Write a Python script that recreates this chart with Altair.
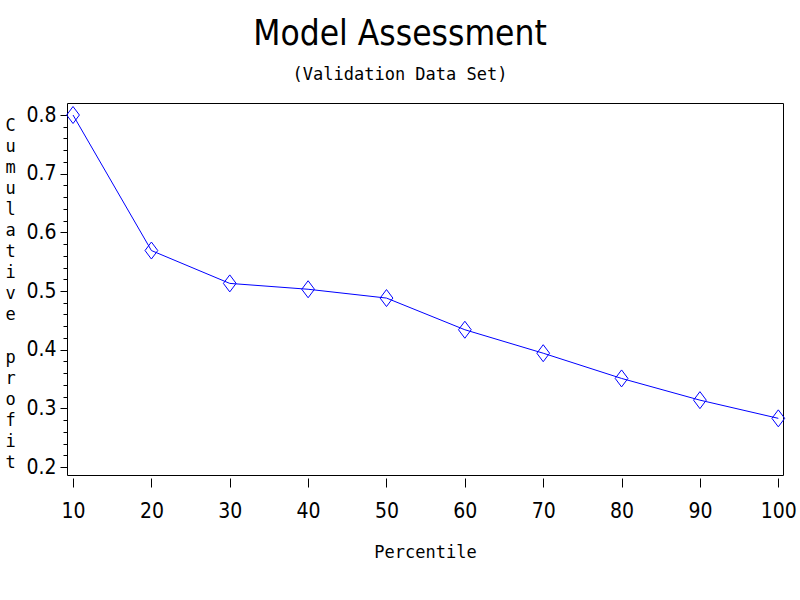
import altair as alt
import pandas as pd

# ---- data ----
percentile = [10, 20, 30, 40, 50, 60, 70, 80, 90, 100]
cum_profit = [0.800, 0.569, 0.513, 0.503, 0.488, 0.434, 0.394, 0.351, 0.314, 0.283]
x_ticks = [10, 20, 30, 40, 50, 60, 70, 80, 90, 100]
y_major = [0.2, 0.3, 0.4, 0.5, 0.6, 0.7, 0.8]
y_minor = [0.20, 0.22, 0.24, 0.26, 0.28, 0.30, 0.32, 0.34, 0.36, 0.38,
           0.40, 0.42, 0.44, 0.46, 0.48, 0.50, 0.52, 0.54, 0.56, 0.58,
           0.60, 0.62, 0.64, 0.66, 0.68, 0.70, 0.72, 0.74, 0.76, 0.78, 0.80]
y_title = "Cumulative profit"
# one character per line; the blank line keeps the word gap
y_title_chars = [c if c != " " else "\u2800" for c in y_title]

df = pd.DataFrame({"Percentile": percentile, "profit": cum_profit})

NARROW = "Liberation Sans Narrow, DejaVu Sans Condensed, sans-serif"
MONO = "DejaVu Sans Mono, monospace"
BLUE = "#0000FF"

x_scale = alt.Scale(domain=[9.23, 100.6], nice=False, zero=False)
y_scale = alt.Scale(domain=[0.1864, 0.8205], nice=False, zero=False)

x_axis = alt.Axis(
    values=x_ticks, title="Percentile", domain=False, grid=False,
    tickSize=9, offset=3, tickColor="black", labelColor="black",
    labelFont=NARROW, labelFontSize=21, labelPadding=13,
    titleFont=MONO, titleFontSize=17, titleFontWeight="normal",
    titleColor="black", titlePadding=23, labelFlush=False,
)

y_major_axis = alt.Axis(
    orient="left", values=y_major, format=".1f", domain=False, grid=False,
    tickSize=7, tickColor="black", labelColor="black",
    labelFont=NARROW, labelFontSize=21, labelPadding=4,
    title=y_title_chars, titleAngle=0, titleAlign="center",
    titleBaseline="top", titleX=-57, titleY=14, titleLineHeight=21.1,
    titleFont=MONO, titleFontSize=17, titleFontWeight="normal",
    titleColor="black", labelFlush=False,
)

y_minor_axis = alt.Axis(
    orient="left", values=y_minor, labels=False, domain=False, grid=False,
    tickSize=4, tickColor="black", title=None,
)

line = alt.Chart(df).mark_line(color=BLUE, strokeWidth=1).encode(
    x=alt.X("Percentile:Q", scale=x_scale, axis=x_axis),
    y=alt.Y("profit:Q", scale=y_scale, axis=y_major_axis),
)

points = alt.Chart(df).mark_point(
    shape="M0,-1L0.75,0L0,1L-0.75,0Z", filled=False, color=BLUE,
    size=289, strokeWidth=1, opacity=1,
).encode(
    x=alt.X("Percentile:Q", scale=x_scale, axis=x_axis),
    y=alt.Y("profit:Q", scale=y_scale, axis=y_minor_axis),
)

chart = alt.layer(line, points).resolve_axis(y="independent").properties(
    width=716,
    height=372,
    autosize=alt.AutoSizeParams(type="none"),
    padding={"left": 67, "top": 103, "right": 17, "bottom": 125},
    background="white",
    title=alt.TitleParams(
        text="Model Assessment",
        subtitle="(Validation Data Set)",
        font=NARROW, fontSize=35, fontWeight="normal", color="black",
        subtitleFont=MONO, subtitleFontSize=17, subtitleColor="black",
        subtitlePadding=15, anchor="middle", dx=-25, offset=20,
    ),
).configure_view(stroke="black", strokeWidth=1)

chart.save("out.html", embed_options={"renderer": "svg", "actions": False})
